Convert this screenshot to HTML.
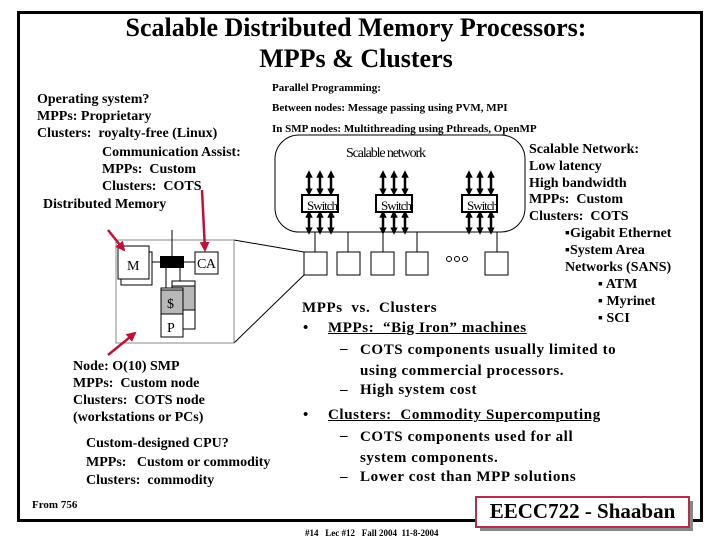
<!DOCTYPE html>
<html><head><meta charset="utf-8"><style>
body{margin:0;width:720px;height:540px;background:#fff;position:relative;overflow:hidden;font-family:"Liberation Serif",serif;font-weight:bold;color:#000}
.t{position:absolute;white-space:nowrap;line-height:18px}
.s14{font-size:14px}.s11{font-size:11px}.s15{font-size:15px;letter-spacing:0.6px}
</style></head><body>
<div style="position:absolute;left:17px;top:11px;width:680px;height:505px;border:3px solid #000"></div>
<div class="t" style="left:0;width:712px;text-align:center;top:12px;font-size:26px;line-height:31px">Scalable Distributed Memory Processors:<br>MPPs &amp; Clusters</div>

<div class="t s11" style="left:272px;top:79px">Parallel Programming:</div>
<div class="t s11" style="left:272px;top:99px">Between nodes: Message passing using PVM, MPI</div>
<div class="t s11" style="left:272px;top:120px">In SMP nodes: Multithreading using Pthreads, OpenMP</div>

<div class="t s14" style="left:37px;top:91px;line-height:17px">Operating system?<br>MPPs: Proprietary<br>Clusters:&nbsp; royalty-free (Linux)</div>
<div class="t s14" style="left:102px;top:144px;line-height:17px">Communication Assist:<br>MPPs:&nbsp; Custom<br>Clusters:&nbsp; COTS</div>
<div class="t s14" style="left:43px;top:196px">Distributed Memory</div>

<div class="t s14" style="left:529px;top:142px;line-height:16.8px">Scalable Network:<br>Low latency<br>High bandwidth<br>MPPs:&nbsp; Custom<br>Clusters:&nbsp; COTS</div>
<div class="t s14" style="left:565px;top:226px;line-height:16.8px">▪Gigabit Ethernet<br>▪System Area<br>Networks (SANS)</div>
<div class="t s14" style="left:598px;top:276px;line-height:17px">▪ ATM<br>▪ Myrinet<br>▪ SCI</div>

<div class="t s14" style="left:73px;top:358px;line-height:17px">Node: O(10) SMP<br>MPPs:&nbsp; Custom node<br>Clusters:&nbsp; COTS node<br>(workstations or PCs)</div>
<div class="t s14" style="left:86px;top:435px;line-height:18.5px">Custom-designed CPU?<br>MPPs:&nbsp;&nbsp; Custom or commodity<br>Clusters:&nbsp; commodity</div>
<div class="t s11" style="left:32px;top:496px">From 756</div>

<div class="t s15" style="left:302px;top:299px">MPPs&nbsp; vs.&nbsp; Clusters</div>
<div class="t s15" style="left:303px;top:319px">•</div>
<div class="t s15" style="left:328px;top:319px;text-decoration:underline">MPPs:&nbsp; “Big Iron” machines</div>
<div class="t s15" style="left:340px;top:340px">–</div>
<div class="t s15" style="left:360px;top:340px;line-height:20.5px">COTS components usually limited to<br>using commercial processors.</div>
<div class="t s15" style="left:340px;top:381px">–</div>
<div class="t s15" style="left:360px;top:381px">High system cost</div>
<div class="t s15" style="left:303px;top:406px">•</div>
<div class="t s15" style="left:328px;top:406px;text-decoration:underline">Clusters:&nbsp; Commodity Supercomputing</div>
<div class="t s15" style="left:340px;top:427px">–</div>
<div class="t s15" style="left:360px;top:427px;line-height:20.5px">COTS components used for all<br>system components.</div>
<div class="t s15" style="left:340px;top:468px">–</div>
<div class="t s15" style="left:360px;top:468px">Lower cost than MPP solutions</div>

<div style="position:absolute;left:480px;top:501px;width:213px;height:30px;background:#888"></div>
<div style="position:absolute;left:475px;top:496px;width:211px;height:28px;background:#fff;border:2px solid #b0304a"></div>
<div class="t" style="left:475px;top:497px;width:215px;text-align:center;font-size:21px;line-height:28px">EECC722 - Shaaban</div>
<div class="t" style="left:305px;top:527px;font-size:9px;line-height:12px">#14&nbsp;&nbsp; Lec #12&nbsp;&nbsp; Fall 2004&nbsp; 11-8-2004</div>

<svg width="720" height="540" style="position:absolute;left:0;top:0" font-family="Liberation Serif,serif">
<defs>
<marker id="ah" viewBox="0 0 10 10" refX="5" refY="5" markerWidth="3" markerHeight="3" orient="auto-start-reverse"><path d="M0,0L10,5L0,10z" fill="#000"/></marker>
<marker id="ra" viewBox="0 0 10 10" refX="8" refY="5" markerWidth="4" markerHeight="4" orient="auto"><path d="M0,0L10,5L0,10z" fill="#c0103a"/></marker>
</defs>
<rect x="275" y="135" width="250" height="97" rx="24" fill="none" stroke="#000"/>
<text x="346" y="157" font-size="14" font-weight="normal" textLength="80">Scalable network</text>
<g stroke="#000" stroke-width="2.5">
<g id="sw">
<line x1="309" y1="174" x2="309" y2="192" marker-start="url(#ah)" marker-end="url(#ah)"/>
<line x1="320" y1="174" x2="320" y2="192" marker-start="url(#ah)" marker-end="url(#ah)"/>
<line x1="331" y1="174" x2="331" y2="192" marker-start="url(#ah)" marker-end="url(#ah)"/>
<line x1="309" y1="214" x2="309" y2="231" marker-start="url(#ah)" marker-end="url(#ah)"/>
<line x1="320" y1="214" x2="320" y2="231" marker-start="url(#ah)" marker-end="url(#ah)"/>
<line x1="331" y1="214" x2="331" y2="231" marker-start="url(#ah)" marker-end="url(#ah)"/>
</g>
<use href="#sw" x="74"/><use href="#sw" x="160"/>
</g>
<g fill="#fff" stroke="#000" stroke-width="2">
<rect x="302" y="195" width="36" height="17"/><rect x="376" y="195" width="36" height="17"/><rect x="462" y="195" width="35" height="17"/>
</g>
<g font-size="13" font-weight="normal"><text x="307" y="210" textLength="31">Switch</text><text x="381" y="210" textLength="31">Switch</text><text x="467" y="210" textLength="31">Switch</text></g>
<g stroke="#000" fill="#fff">
<line x1="315" y1="232" x2="315" y2="252"/><line x1="348" y1="232" x2="348" y2="252"/><line x1="383" y1="232" x2="383" y2="252"/><line x1="417" y1="232" x2="417" y2="252"/><line x1="497" y1="232" x2="497" y2="252"/>
<rect x="304" y="252" width="23" height="23"/><rect x="337" y="252" width="23" height="23"/><rect x="371" y="252" width="23" height="23"/><rect x="406" y="252" width="22" height="23"/><rect x="485" y="252" width="23" height="23"/>
<circle cx="449" cy="259" r="2.5"/><circle cx="457" cy="259" r="2.5"/><circle cx="465" cy="259" r="2.5"/>
</g>
<g stroke="#000" fill="none">
<line x1="234" y1="240" x2="304" y2="252"/><line x1="234" y1="343" x2="304" y2="275"/>
</g>
<rect x="116" y="240" width="118" height="103" fill="none" stroke="#888"/>
<g stroke="#000" fill="#fff">
<line x1="172" y1="230" x2="172" y2="256"/>
<line x1="150" y1="262" x2="160" y2="262"/><line x1="184" y1="262" x2="195" y2="262"/>
<line x1="166" y1="268" x2="166" y2="288"/><line x1="180" y1="268" x2="180" y2="281"/>
<rect x="121" y="252" width="31" height="33"/><rect x="118" y="246" width="31" height="33"/>
<rect x="195" y="252" width="23" height="22"/>
<rect x="172" y="281" width="23" height="48"/><rect x="172" y="286" width="23" height="24" fill="#b8b8b8"/>
<rect x="161" y="288" width="22" height="49"/><rect x="161" y="290" width="22" height="24" fill="#b8b8b8"/>
</g>
<rect x="160" y="256" width="24" height="12" fill="#000"/>
<g font-size="14" font-weight="normal"><text x="127" y="270">M</text><text x="197" y="268" textLength="19">CA</text><text x="167" y="308">$</text><text x="167" y="332">P</text></g>
<g stroke="#c0103a" stroke-width="2.5" fill="none">
<line x1="108" y1="230" x2="124" y2="250" marker-end="url(#ra)"/>
<line x1="202" y1="190" x2="205" y2="250" marker-end="url(#ra)"/>
<line x1="108" y1="355" x2="135" y2="333" marker-end="url(#ra)"/>
</g>
</svg>
</body></html>
